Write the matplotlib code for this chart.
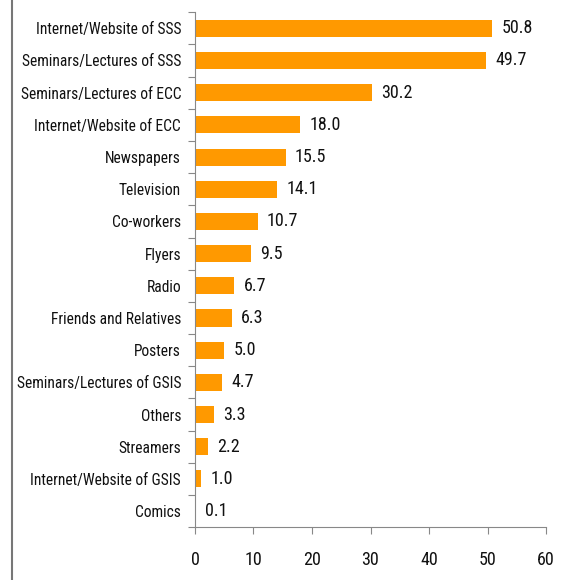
import matplotlib
matplotlib.use("Agg")
from matplotlib import pyplot as plt
from matplotlib.lines import Line2D
import numpy as np

plt.rcParams['font.family'] = ['Liberation Sans Narrow', 'Roboto Condensed', 'Lato', 'DejaVu Sans']

# Sources of information, top to bottom
sources = ["Internet/Website of SSS", "Seminars/Lectures of SSS", "Seminars/Lectures of ECC",
           "Internet/Website of ECC", "Newspapers", "Television", "Co-workers", "Flyers",
           "Radio", "Friends and Relatives", "Posters", "Seminars/Lectures of GSIS",
           "Others", "Streamers", "Internet/Website of GSIS", "Comics"]
percent = [50.8, 49.7, 30.2, 18.0, 15.5, 14.1, 10.7, 9.5, 6.7, 6.3, 5.0, 4.7, 3.3, 2.2, 1.0, 0.1]
xticks = [0, 10, 20, 30, 40, 50, 60]

fig = plt.figure(figsize=(5.7, 5.8), dpi=100)
ax = fig.add_axes([0.342, 0.091, 0.616, 0.888])

y = np.arange(len(sources))
ax.barh(y, percent, height=0.53, color='#FF9900')
for yi, v in zip(y, percent):
    ax.text(v + 1.6, yi, "%.1f" % v, va='center', ha='left', fontsize=13, color='#111111')

ax.set_ylim(len(sources) - 0.5, -0.5)
ax.set_xlim(0, 60)
ax.set_xticks(xticks)
ax.set_yticks(np.arange(len(sources) + 1) - 0.5, minor=False)
ax.set_yticklabels([])
ax.set_yticks(y, minor=True)
ax.set_yticklabels(sources, minor=True)
ax.tick_params(axis='y', which='major', length=5, color='#888888', direction='out')
ax.tick_params(axis='y', which='minor', length=0, labelsize=11.2, pad=10, labelcolor='#111111')
ax.tick_params(axis='x', length=5, color='#888888', labelsize=13, pad=12, labelcolor='#111111')

for s in ['top', 'right']:
    ax.spines[s].set_visible(False)
for s in ['left', 'bottom']:
    ax.spines[s].set_color('#888888')

# frame line at left edge of the figure
fig.add_artist(Line2D([0.021, 0.021], [0, 1], color='#777777', lw=1.5))

fig.savefig("out.png", dpi=100)
